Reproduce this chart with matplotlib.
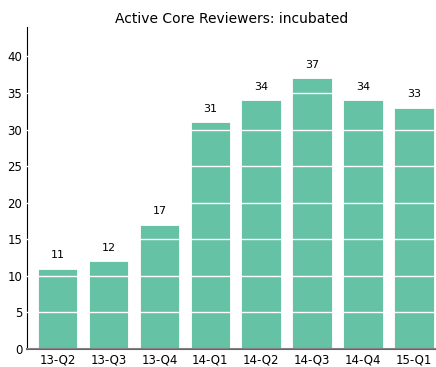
import matplotlib
matplotlib.use('Agg')
import matplotlib.pyplot as plt

# trimestres y numero de revisores activos
trimestres = ['13-Q2', '13-Q3', '13-Q4', '14-Q1', '14-Q2', '14-Q3', '14-Q4', '15-Q1']
revisores = [11, 12, 17, 31, 34, 37, 34, 33]

fig = plt.figure(figsize=(4.36, 3.67), dpi=100)
ax = fig.add_axes([0.062, 0.049, 0.938, 0.877])

x = range(len(trimestres))
barras = ax.bar(x, revisores, width=0.78, color='#66c2a5', edgecolor='white', linewidth=0.6)

# etiquetas con el valor encima de cada barra
for xi, v in zip(x, revisores):
    ax.annotate(str(v), (xi, v), xytext=(0, 6), textcoords='offset points',
                ha='center', va='bottom', fontsize=8)

ax.set_xlim(-0.6, 7.43)
ax.set_ylim(0, 44)
ax.set_yticks(range(0, 45, 5))
ax.set_xticks(list(x))
ax.set_xticklabels(trimestres)
ax.tick_params(length=0, labelsize=8.5)

# rejilla blanca sobre las barras
ax.set_axisbelow(False)
ax.yaxis.grid(True, color='white', linewidth=1)

for lado in ['top', 'right']:
    ax.spines[lado].set_visible(False)
ax.spines['left'].set_color('black')
ax.spines['bottom'].set_color('#666666')
ax.spines['bottom'].set_linewidth(1.5)

ax.set_title('Active Core Reviewers: incubated', fontsize=10, pad=3)

fig.savefig('out.png', dpi=100)
